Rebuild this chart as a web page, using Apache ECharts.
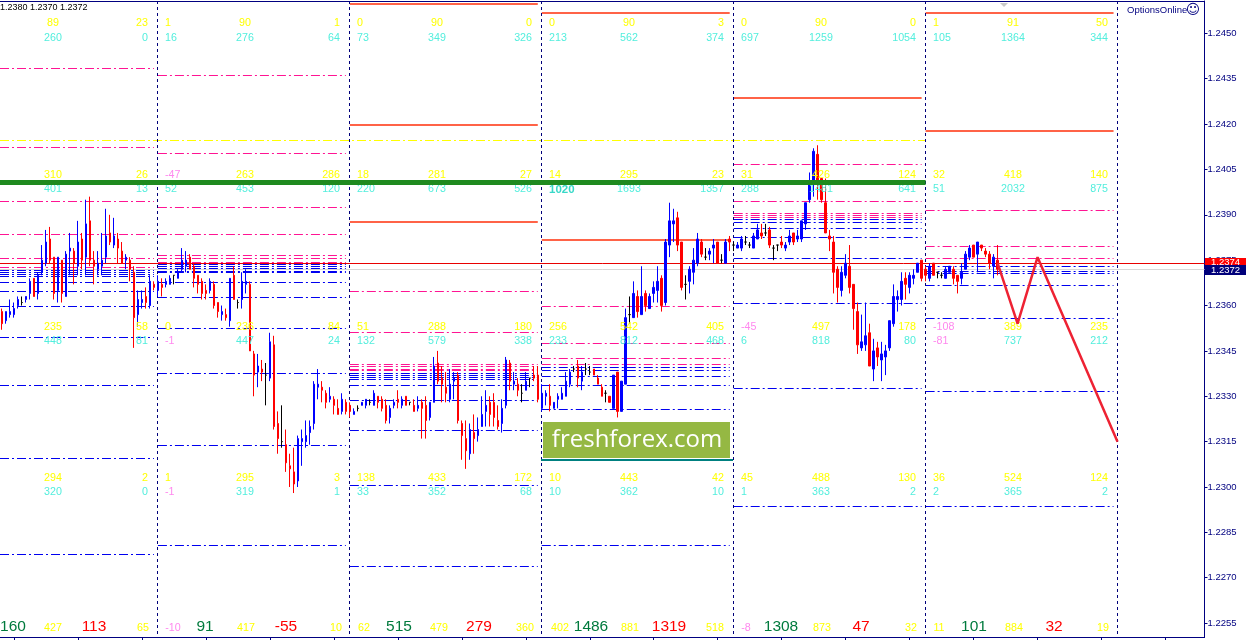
<!DOCTYPE html>
<html><head><meta charset="utf-8">
<style>html,body{margin:0;padding:0;background:#fff}#c{width:1246px;height:640px}</style>
<script src="https://cdn.jsdelivr.net/npm/echarts@6/dist/echarts.min.js"></script></head>
<body><div id="c"></div>
<script>
// candle rows: [open, close, low, high]
const candlesDayA=[[1.2358,1.2354,1.2352,1.2359],[1.2355,1.2358,1.2354,1.2358],[1.2357,1.2358,1.2356,1.2362],[1.2357,1.2359,1.2356,1.2361],[1.2360,1.2362,1.2359,1.2363],[1.2361,1.2361,1.2360,1.2363],[1.2362,1.2363,1.2361,1.2363],[1.2364,1.2368,1.2362,1.2369],[1.2369,1.2363,1.2363,1.2369],[1.2364,1.2370,1.2362,1.2371],
[1.2371,1.2375,1.2370,1.2380],[1.2374,1.2381,1.2373,1.2385],[1.2382,1.2375,1.2374,1.2386],[1.2376,1.2364,1.2362,1.2376],[1.2365,1.2376,1.2361,1.2376],[1.2375,1.2364,1.2361,1.2375],[1.2363,1.2377,1.2363,1.2378],[1.2378,1.2379,1.2370,1.2384],[1.2378,1.2374,1.2367,1.2379],[1.2373,1.2381,1.2370,1.2388],
[1.2382,1.2375,1.2372,1.2384],[1.2376,1.2387,1.2370,1.2395],[1.2388,1.2375,1.2373,1.2396],[1.2375,1.2373,1.2367,1.2378],[1.2372,1.2374,1.2370,1.2378],[1.2373,1.2375,1.2370,1.2384],[1.2376,1.2383,1.2374,1.2392],[1.2384,1.2381,1.2380,1.2390],[1.2380,1.2383,1.2379,1.2389],[1.2382,1.2379,1.2374,1.2384],
[1.2378,1.2374,1.2374,1.2381],[1.2375,1.2376,1.2372,1.2377],[1.2375,1.2372,1.2368,1.2376],[1.2371,1.2356,1.2346,1.2373],[1.2357,1.2362,1.2353,1.2365],[1.2361,1.2362,1.2359,1.2365],[1.2363,1.2361,1.2359,1.2366],[1.2360,1.2368,1.2359,1.2370],[1.2367,1.2366,1.2365,1.2368]];
const candlesDayB=[[1.2365,1.2368,1.2363,1.2370],[1.2367,1.2366,1.2363,1.2369],[1.2367,1.2368,1.2366,1.2369],[1.2367,1.2369,1.2367,1.2370],[1.2370,1.2370,1.2367,1.2370],[1.2369,1.2371,1.2369,1.2372],[1.2372,1.2375,1.2371,1.2379],[1.2373,1.2375,1.2371,1.2378],[1.2376,1.2372,1.2372,1.2377],[1.2373,1.2369,1.2366,1.2374],
[1.2370,1.2367,1.2364,1.2370],[1.2368,1.2364,1.2362,1.2369],[1.2365,1.2364,1.2362,1.2367],[1.2365,1.2368,1.2364,1.2369],[1.2367,1.2360,1.2359,1.2368],[1.2361,1.2358,1.2356,1.2361],[1.2357,1.2358,1.2355,1.2360],[1.2357,1.2356,1.2355,1.2359],[1.2355,1.2369,1.2353,1.2369],[1.2370,1.2362,1.2362,1.2373],
[1.2361,1.2361,1.2359,1.2362],[1.2362,1.2368,1.2359,1.2371],[1.2367,1.2368,1.2364,1.2372],[1.2367,1.2345,1.2345,1.2368],[1.2344,1.2337,1.2330,1.2345],[1.2338,1.2340,1.2333,1.2344],[1.2339,1.2338,1.2335,1.2342],[1.2337,1.2337,1.2327,1.2341],[1.2336,1.2348,1.2335,1.2351],[1.2347,1.2320,1.2319,1.2350],
[1.2321,1.2316,1.2311,1.2325],[1.2315,1.2315,1.2313,1.2327],[1.2314,1.2308,1.2305,1.2319],[1.2307,1.2306,1.2300,1.2311],[1.2305,1.2301,1.2298,1.2313],[1.2302,1.2316,1.2300,1.2317],[1.2315,1.2316,1.2307,1.2319],[1.2315,1.2317,1.2313,1.2322],[1.2318,1.2320,1.2314,1.2322],[1.2321,1.2334,1.2319,1.2335],
[1.2333,1.2334,1.2329,1.2339],[1.2333,1.2332,1.2328,1.2335],[1.2331,1.2328,1.2326,1.2332],[1.2329,1.2330,1.2328,1.2333],[1.2329,1.2327,1.2324,1.2330],[1.2326,1.2324,1.2324,1.2329],[1.2325,1.2329,1.2324,1.2331],[1.2328,1.2325,1.2324,1.2329]];
const candlesDayC=[[1.2327,1.2325,1.2323,1.2328],[1.2324,1.2325,1.2324,1.2326],[1.2326,1.2326,1.2325,1.2327],[1.2327,1.2328,1.2327,1.2328],[1.2327,1.2329,1.2326,1.2329],[1.2328,1.2328,1.2327,1.2329],[1.2327,1.2331,1.2327,1.2332],[1.2330,1.2328,1.2326,1.2330],[1.2329,1.2326,1.2325,1.2330],[1.2327,1.2322,1.2321,1.2329],
[1.2323,1.2326,1.2321,1.2327],[1.2327,1.2328,1.2326,1.2329],[1.2329,1.2328,1.2326,1.2332],[1.2327,1.2329,1.2326,1.2330],[1.2330,1.2327,1.2327,1.2330],[1.2328,1.2328,1.2327,1.2328],[1.2327,1.2325,1.2325,1.2329],[1.2326,1.2327,1.2325,1.2330],[1.2328,1.2326,1.2316,1.2329],[1.2327,1.2322,1.2316,1.2330],
[1.2323,1.2328,1.2322,1.2328],[1.2328,1.2340,1.2328,1.2343],[1.2341,1.2335,1.2334,1.2345],[1.2336,1.2334,1.2328,1.2340],[1.2333,1.2331,1.2328,1.2338],[1.2329,1.2334,1.2328,1.2339],[1.2335,1.2336,1.2329,1.2338],[1.2337,1.2322,1.2321,1.2338],[1.2321,1.2317,1.2309,1.2322],[1.2316,1.2312,1.2306,1.2322],
[1.2311,1.2319,1.2309,1.2321],[1.2318,1.2316,1.2311,1.2324],[1.2317,1.2319,1.2315,1.2323],[1.2320,1.2324,1.2320,1.2330],[1.2325,1.2327,1.2320,1.2332],[1.2328,1.2324,1.2320,1.2330],[1.2328,1.2323,1.2320,1.2331],[1.2322,1.2320,1.2319,1.2327],[1.2321,1.2326,1.2318,1.2329],[1.2327,1.2342,1.2326,1.2343],
[1.2341,1.2335,1.2332,1.2342],[1.2334,1.2335,1.2332,1.2338],[1.2334,1.2332,1.2330,1.2336],[1.2331,1.2331,1.2328,1.2334],[1.2332,1.2335,1.2332,1.2338],[1.2336,1.2336,1.2333,1.2336],[1.2337,1.2336,1.2335,1.2340],[1.2337,1.2329,1.2328,1.2340]];
const candlesDayD=[[1.2326,1.2331,1.2325,1.2334],[1.2330,1.2331,1.2327,1.2332],[1.2330,1.2327,1.2325,1.2334],[1.2326,1.2328,1.2326,1.2328],[1.2329,1.2330,1.2326,1.2331],[1.2329,1.2331,1.2329,1.2333],[1.2330,1.2335,1.2330,1.2338],[1.2334,1.2338,1.2333,1.2339],[1.2339,1.2339,1.2338,1.2340],[1.2340,1.2336,1.2333,1.2342],
[1.2335,1.2338,1.2332,1.2340],[1.2339,1.2339,1.2337,1.2341],[1.2338,1.2338,1.2337,1.2340],[1.2339,1.2337,1.2337,1.2339],[1.2336,1.2334,1.2334,1.2337],[1.2333,1.2330,1.2330,1.2334],[1.2331,1.2331,1.2328,1.2332],[1.2330,1.2328,1.2328,1.2330],[1.2326,1.2337,1.2326,1.2337],[1.2338,1.2325,1.2323,1.2338],
[1.2325,1.2335,1.2325,1.2335],[1.2334,1.2356,1.2334,1.2359],[1.2357,1.2357,1.2354,1.2363],[1.2356,1.2364,1.2356,1.2368],[1.2363,1.2358,1.2356,1.2365],[1.2357,1.2363,1.2357,1.2373],[1.2364,1.2360,1.2358,1.2365],[1.2359,1.2363,1.2359,1.2364],[1.2364,1.2366,1.2361,1.2368],[1.2365,1.2368,1.2361,1.2373],
[1.2369,1.2360,1.2358,1.2370],[1.2361,1.2381,1.2360,1.2382],[1.2380,1.2388,1.2376,1.2394],[1.2387,1.2388,1.2381,1.2392],[1.2389,1.2380,1.2378,1.2391],[1.2381,1.2366,1.2365,1.2381],[1.2367,1.2367,1.2362,1.2370],[1.2368,1.2372,1.2364,1.2373],[1.2371,1.2375,1.2367,1.2379],[1.2374,1.2382,1.2373,1.2384],
[1.2381,1.2377,1.2376,1.2382],[1.2376,1.2376,1.2375,1.2379],[1.2377,1.2378,1.2375,1.2379],[1.2379,1.2380,1.2374,1.2382],[1.2381,1.2374,1.2374,1.2381],[1.2375,1.2375,1.2374,1.2377],[1.2374,1.2381,1.2374,1.2382],[1.2382,1.2381,1.2378,1.2383]];
const candlesDayE=[[1.2380,1.2380,1.2378,1.2381],[1.2379,1.2380,1.2379,1.2381],[1.2379,1.2382,1.2378,1.2383],[1.2381,1.2381,1.2380,1.2383],[1.2380,1.2380,1.2379,1.2381],[1.2379,1.2383,1.2379,1.2384],[1.2382,1.2385,1.2382,1.2387],[1.2384,1.2383,1.2382,1.2387],[1.2384,1.2384,1.2383,1.2387],[1.2385,1.2380,1.2379,1.2386],
[1.2379,1.2379,1.2375,1.2380],[1.2380,1.2380,1.2378,1.2380],[1.2381,1.2380,1.2379,1.2383],[1.2379,1.2380,1.2378,1.2381],[1.2381,1.2383,1.2380,1.2385],[1.2384,1.2381,1.2380,1.2384],[1.2382,1.2383,1.2381,1.2385],[1.2382,1.2388,1.2381,1.2388],[1.2387,1.2394,1.2385,1.2394],[1.2395,1.2401,1.2394,1.2404],
[1.2400,1.2411,1.2396,1.2412],[1.2410,1.2401,1.2395,1.2413],[1.2402,1.2395,1.2394,1.2402],[1.2394,1.2384,1.2384,1.2402],[1.2383,1.2382,1.2378,1.2385],[1.2381,1.2371,1.2364,1.2383],[1.2372,1.2366,1.2361,1.2373],[1.2365,1.2371,1.2363,1.2373],[1.2370,1.2374,1.2369,1.2377],[1.2373,1.2366,1.2364,1.2380],
[1.2367,1.2359,1.2352,1.2367],[1.2358,1.2347,1.2344,1.2361],[1.2346,1.2348,1.2345,1.2357],[1.2347,1.2350,1.2345,1.2361],[1.2351,1.2340,1.2340,1.2354],[1.2339,1.2345,1.2335,1.2349],[1.2346,1.2343,1.2340,1.2348],[1.2342,1.2344,1.2335,1.2348],[1.2343,1.2345,1.2337,1.2347],[1.2346,1.2355,1.2345,1.2355],
[1.2354,1.2363,1.2353,1.2367],[1.2362,1.2363,1.2358,1.2365],[1.2362,1.2368,1.2360,1.2371],[1.2369,1.2367,1.2362,1.2371],[1.2366,1.2370,1.2364,1.2371],[1.2369,1.2370,1.2367,1.2372],[1.2371,1.2374,1.2371,1.2374],[1.2375,1.2369,1.2368,1.2375]];
const candlesDayF=[[1.2372,1.2370,1.2368,1.2373],[1.2369,1.2373,1.2368,1.2374],[1.2374,1.2370,1.2370,1.2374],[1.2371,1.2371,1.2369,1.2371],[1.2370,1.2370,1.2369,1.2371],[1.2369,1.2372,1.2369,1.2373],[1.2371,1.2373,1.2371,1.2373],[1.2372,1.2369,1.2367,1.2373],[1.2370,1.2368,1.2364,1.2370],[1.2369,1.2371,1.2367,1.2374],
[1.2372,1.2377,1.2372,1.2378],[1.2376,1.2379,1.2375,1.2380],[1.2380,1.2376,1.2376,1.2380],[1.2377,1.2381,1.2371,1.2381],[1.2380,1.2379,1.2378,1.2380],[1.2378,1.2377,1.2376,1.2379],[1.2377,1.2374,1.2372,1.2378],[1.2373,1.2376,1.2369,1.2377],[1.2375,1.2372,1.2370,1.2380]];

const categoryCount=301;
const sessionStarts=[0,39,87,135,183,231,279];
const forecastPath=[[249,1.2374],[254,1.2354],[259,1.2376],[279,1.2315]];
const tickLabels=[1.2450,1.2435,1.2420,1.2405,1.2390,1.2375,1.2360,1.2345,1.2330,1.2315,1.2300,1.2285,1.2270,1.2255];
const askPrice=1.2374, bidPrice=1.2372;
const yellowLevel=1.24145, greenLevel=1.24006;

const pinkLevels=[
 [1.24384,1.24123,1.23945,1.23836,1.23756,1.23727],
 [1.24361,1.24103,1.23925,1.23836,1.23766,1.23756,1.23743],
 [1.23646,1.23512,1.23405,1.23397,1.23390,1.23384],
 [1.23597,1.23474,1.23425,1.23405],
 [1.24066,1.23944,1.23904,1.23897,1.23891],
 [1.23914,1.23795,1.23755,1.23739]];
const blueLevels=[
 [1.23717,1.23710,1.23703,1.23697,1.23677,1.23647,1.23598,1.23495,1.23336,1.23095,1.22778],
 [1.23736,1.23728,1.23721,1.23714,1.23708,1.23676,1.23626,1.23524,1.23375,1.23137,1.22806],
 [1.23375,1.23368,1.23362,1.23355,1.23335,1.23286,1.23187,1.23005,1.22737],
 [1.23394,1.23386,1.23365,1.23335,1.23256,1.22807],
 [1.23884,1.23875,1.23854,1.23825,1.23755,1.23607,1.23326,1.22935],
 [1.23728,1.23719,1.23712,1.23706,1.23666,1.23557,1.23316,1.22935]];
const solidLevels=[[],[],[1.24596,1.24197,1.23876],[1.24566,1.23817],[1.24286],[1.24567,1.24176]];

// text tables: [left, middle, right] per session
const row1Yellow=[[null,'89','23'],['1','90','1'],['0','90','0'],['0','90','3'],['0','90','0'],['1','91','50']];
const row1Cyan=[[null,'260','0'],['16','276','64'],['73','349','326'],['213','562','374'],['697','1259','1054'],['105','1364','344']];
const row2Yellow=[[null,'310','26'],['-47','263','286'],['18','281','27'],['14','295','23'],['31','426','124'],['32','418','140']];
const row2Cyan=[[null,'401','13'],['52','453','120'],['220','673','526'],['1020','1693','1357'],['288','1481','641'],['51','2032','875']];
const row3Yellow=[[null,'235','58'],['0','236','84'],['51','288','180'],['256','542','405'],['-45','497','178'],['-108','389','235']];
const row3Cyan=[[null,'448','81'],['-1','447','24'],['132','579','338'],['233','812','468'],['6','818','80'],['-81','737','212']];
const row4Yellow=[[null,'294','2'],['1','295','3'],['138','433','172'],['10','443','42'],['45','488','130'],['36','524','124']];
const row4Cyan=[[null,'320','0'],['-1','319','1'],['33','352','68'],['10','362','10'],['1','363','2'],['2','365','2']];
const bottomValues=['160','427','113','65','-10','91','417','-55','10','62','515','479','279','360','402','1486','881','1319','518','-8','1308','873','47','32','11','101','884','32','19'];
const bottomKinds=['g','y','r','y','y','g','y','r','y','y','g','y','r','y','y','g','y','r','y','y','g','y','r','y','y','g','y','r','y'];
const bottomX=[13,53,94,143,173,205,246,286,336,364,399,439,479,525,560,591,630,669,715,746,781,822,861,911,939,974,1014,1054,1103];

const candles=[].concat(candlesDayA,candlesDayB,candlesDayC,candlesDayD,candlesDayE,candlesDayF);
const categories=Array.from({length:categoryCount},(_,i)=>String(i));

const KIND={
 pink:{stroke:'#ff1493',lineWidth:1,lineDash:[9,3,2,3]},
 blue:{stroke:'#0000f0',lineWidth:1,lineDash:[9,3,2,3]},
 solid:{stroke:'#ff6347',lineWidth:2},
 yellow:{stroke:'#ffff00',lineWidth:1,lineDash:[9,3,2,3]},
 green:{stroke:'#1f8a1f',lineWidth:5},
 ask:{stroke:'#e80000',lineWidth:1},
 bid:{stroke:'#d8d8d8',lineWidth:1}
};
const kindNames=Object.keys(KIND);
const levelRows=[];
function addLevels(table,kind){table.forEach((list,d)=>list.forEach(p=>levelRows.push([sessionStarts[d],sessionStarts[d+1]-1,p,kindNames.indexOf(kind)])));}
addLevels(pinkLevels,'pink');addLevels(blueLevels,'blue');addLevels(solidLevels,'solid');
levelRows.push([0,231,yellowLevel,kindNames.indexOf('yellow')]);
levelRows.push([0,categoryCount-1,bidPrice,kindNames.indexOf('bid')]);
levelRows.push([0,categoryCount-1,askPrice,kindNames.indexOf('ask')]);
const topRows=[[0,231,greenLevel,kindNames.indexOf('green')]];
function renderLevel(params,api){
  const k=KIND[kindNames[api.value(3)]];
  const a=api.coord([api.value(0),api.value(2)]), b=api.coord([api.value(1),api.value(2)]);
  const y=k.lineWidth%2?Math.floor(a[1])+0.5:Math.round(a[1]);
  const cs=params.coordSys;
  let x2=b[0]; if(api.value(1)===categoryCount-1) x2=cs.x+cs.width+1;
  let x1=a[0]; if(api.value(0)===0) x1=cs.x;
  return {type:'line',shape:{x1:x1,y1:y,x2:x2,y2:y},style:Object.assign({fill:null},k),silent:true};
}
function renderSeparator(params,api){
  const cs=params.coordSys; const x=Math.floor(api.coord([api.value(0),0])[0])+0.5;
  return {type:'line',shape:{x1:x,y1:cs.y,x2:x,y2:cs.y+cs.height},style:{stroke:'#00007a',lineWidth:1,lineDash:[3,3],fill:null},silent:true};
}

const FONT='"Liberation Sans",Arial,sans-serif';
const YEL='#ffff00',CYA='#52eedd',VIO='#ff88ee';
const gfx=[];
function txt(t,x,y,fill,size,align,z,weight){gfx.push({type:'text',z:z||5,silent:true,style:{text:t,x:x,y:y,fill:fill,font:(weight||'normal')+' '+size+'px '+FONT,align:align||'center',verticalAlign:'middle'}});}
const dayOrigin=[-35,157,349,541,733,925];
function putRow(table,y,color){table.forEach((r,d)=>{const o=dayOrigin[d];
  r.forEach((t,c)=>{ if(t===null)return;
    const neg=t[0]==='-'; const fill=neg?VIO:color;
    if(t==='1020'){txt(t,o+8,y,'#38d8c8',11.5,'left',5,'bold');return;}
    if(c===0)txt(t,o+8,y,fill,10.7,'left');
    else if(c===1)txt(t,o+88,y,fill,10.7,'center');
    else txt(t,o+183,y,fill,10.7,'right');
  });});}
putRow(row1Yellow,23.5,YEL);putRow(row1Cyan,38,CYA);
putRow(row2Yellow,175,YEL);putRow(row2Cyan,189.5,CYA);
putRow(row3Yellow,327.5,YEL);putRow(row3Cyan,341.5,CYA);
putRow(row4Yellow,478.5,YEL);putRow(row4Cyan,492.5,CYA);
bottomValues.forEach((t,i)=>{const k=bottomKinds[i];
  if(k==='g')txt(t,bottomX[i],627,'#007a3d',15.5);
  else if(k==='r')txt(t,bottomX[i],627,'#ff0000',15.5);
  else txt(t,bottomX[i],628.5,t[0]==='-'?VIO:YEL,10.7);});
// header and decorations
gfx.push({type:'rect',z:2,silent:true,shape:{x:0,y:1,width:1205,height:1},style:{fill:'#000080'}});
gfx.push({type:'rect',z:2,silent:true,shape:{x:0,y:637,width:1205,height:1},style:{fill:'#000080'}});
txt('1.2380 1.2370 1.2372',0,8,'#000',9,'left',9);
txt('OptionsOnline',1127,10.5,'#000080',9.5,'left',9);
gfx.push({type:'text',z:9,silent:true,style:{text:'\u263A',x:1193,y:10.5,fill:'#000080',font:'14px "DejaVu Sans"',align:'center',verticalAlign:'middle'}});
gfx.push({type:'polygon',z:9,silent:true,shape:{points:[[1000,3],[1008,3],[1004,7]]},style:{fill:'#c8c8c8'}});
// watermark
gfx.push({type:'rect',z:8,silent:true,shape:{x:543,y:422,width:187,height:36},style:{fill:'#95b843'}});
gfx.push({type:'text',z:9,silent:true,style:{text:'freshforex.com',x:637,y:440,fill:'#fff',font:'24px "Open Sans",sans-serif',align:'center',verticalAlign:'middle'}});
gfx.push({type:'rect',z:8,silent:true,shape:{x:541,y:459,width:192,height:2},style:{fill:'#008080'}});
// price tags
gfx.push({type:'rect',z:10,silent:true,shape:{x:1205,y:258,width:41,height:8},style:{fill:'#ff0000'}});
txt(askPrice.toFixed(4),1211,262.5,'#fff',9.5,'left',10);
gfx.push({type:'rect',z:10,silent:true,shape:{x:1205,y:265,width:41,height:10},style:{fill:'#00007a'}});
txt(bidPrice.toFixed(4),1211,270,'#fff',9.5,'left',11);

const chart=echarts.init(document.getElementById('c'),null,{renderer:'canvas'});
chart.setOption({
 animation:false,backgroundColor:'#ffffff',
 grid:{left:-0.5,top:1,width:1204,height:636,show:false},
 tooltip:{show:false},legend:{show:false},
 xAxis:{type:'category',data:categories,boundaryGap:true,
  axisLine:{show:false},
  axisTick:{show:true,alignWithLabel:true,interval:(i)=>(i-3)%16===0&&i>=3,length:3,lineStyle:{color:'#000080'}},
  axisLabel:{show:false},splitLine:{show:false}},
 yAxis:{type:'value',position:'right',offset:1,min:1.22504,max:1.24607,scale:true,
  axisLine:{show:true,lineStyle:{color:'#000080',width:1}},
  axisTick:{show:true,length:3,customValues:tickLabels,lineStyle:{color:'#000080'}},
  axisLabel:{show:true,color:'#000080',fontSize:9.5,fontFamily:'Liberation Sans',margin:3,customValues:tickLabels,formatter:v=>v.toFixed(4),hideOverlap:false,showMinLabel:true,showMaxLabel:true},
  splitLine:{show:false}},
 series:[
  {name:'levels',type:'custom',z:1,silent:true,clip:false,data:levelRows,encode:{x:[0,1],y:2},renderItem:renderLevel},
  {name:'sessions',type:'custom',z:1,silent:true,data:sessionStarts.slice(1).map(s=>[s]),encode:{x:0},renderItem:renderSeparator},
  {name:'EURUSD',type:'candlestick',z:3,barWidth:2,data:candles,silent:true,
   itemStyle:{color:'#0000ff',color0:'#ff0000',borderColor:'#0000ff',borderColor0:'#ff0000',borderColorDoji:'#000000',borderWidth:1}},
  {name:'major',type:'custom',z:6,silent:true,data:topRows,encode:{x:[0,1],y:2},renderItem:renderLevel},
  {name:'forecast',type:'line',z:7,silent:true,showSymbol:false,data:forecastPath,lineStyle:{color:'#ee2233',width:2.5},clip:false}
 ],
 graphic:{elements:gfx}
});
</script></body></html>
